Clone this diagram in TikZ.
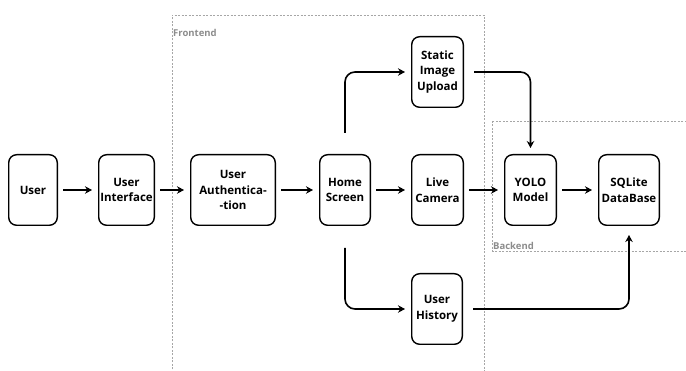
\documentclass[tikz,border=0pt]{standalone}
\usepackage{fontspec}
\setmainfont{Open Sans}
\usetikzlibrary{arrows.meta}

\begin{document}
\begin{tikzpicture}[x=1pt,y=-1pt,
  box/.style={draw,line width=1.4pt,rounded corners=8pt,minimum height=70.6pt,
    inner sep=1pt,align=center,font=\bfseries\fontsize{11.5}{15.5}\selectfont},
  arr/.style={line width=1.6pt,-{Stealth[length=7pt,width=7.5pt]},
    shorten <=5pt,shorten >=6pt},
  elbow/.style={arr,rounded corners=10pt},
  zone/.style={draw=gray!70,dash pattern=on 2pt off 1.5pt,line width=0.6pt},
  zonetext/.style={text=gray!90,inner sep=1pt,font=\bfseries\fontsize{9.5}{10}\selectfont}]

\useasboundingbox (0,0) rectangle (686,371);

\draw[zone] (172,380) -- (172,15) -- (484,15) -- (484,380);
\node[zonetext,anchor=west] (front) at (172,33) {Frontend};
\draw[zone] (492,121) rectangle (692,251);
\node[zonetext,anchor=west] (back) at (492,245.5) {Backend};

\node[box,minimum width=48.6pt] (user) at (33,190) {User};
\node[box,minimum width=55.6pt] (ui) at (126.5,190) {User\\Interface};
\node[box,minimum width=84.6pt] (auth) at (233,190) {User\\Authentica-\\-tion};
\node[box,minimum width=50.6pt] (home) at (345,190) {Home\\Screen};
\node[box,minimum width=51.6pt] (live) at (437.5,190) {Live\\Camera};
\node[box,minimum width=51.6pt] (static) at (437.5,72) {Static\\Image\\Upload};
\node[box,minimum width=50.6pt] (hist) at (437,309) {User\\History};
\node[box,minimum width=51.6pt] (yolo) at (530.5,190) {YOLO\\Model};
\node[box,minimum width=60.6pt] (db) at (629,190) {SQLite\\DataBase};

\draw[arr] (user) -- (ui);
\draw[arr] (ui) -- (auth);
\draw[arr] (auth) -- (home);
\draw[arr] (home) -- (live);
\draw[arr] (live) -- (yolo);
\draw[arr] (yolo) -- (db);

\draw[elbow,shorten <=21pt] (home.north) |- (static.west);
\draw[elbow,shorten <=10pt] (static.east) -| (yolo.north);
\draw[elbow,shorten <=22pt] (home.south) |- (hist.west);
\draw[elbow,shorten <=10pt,shorten >=9pt] (hist.east) -| (db.south);

\end{tikzpicture}
\end{document}
